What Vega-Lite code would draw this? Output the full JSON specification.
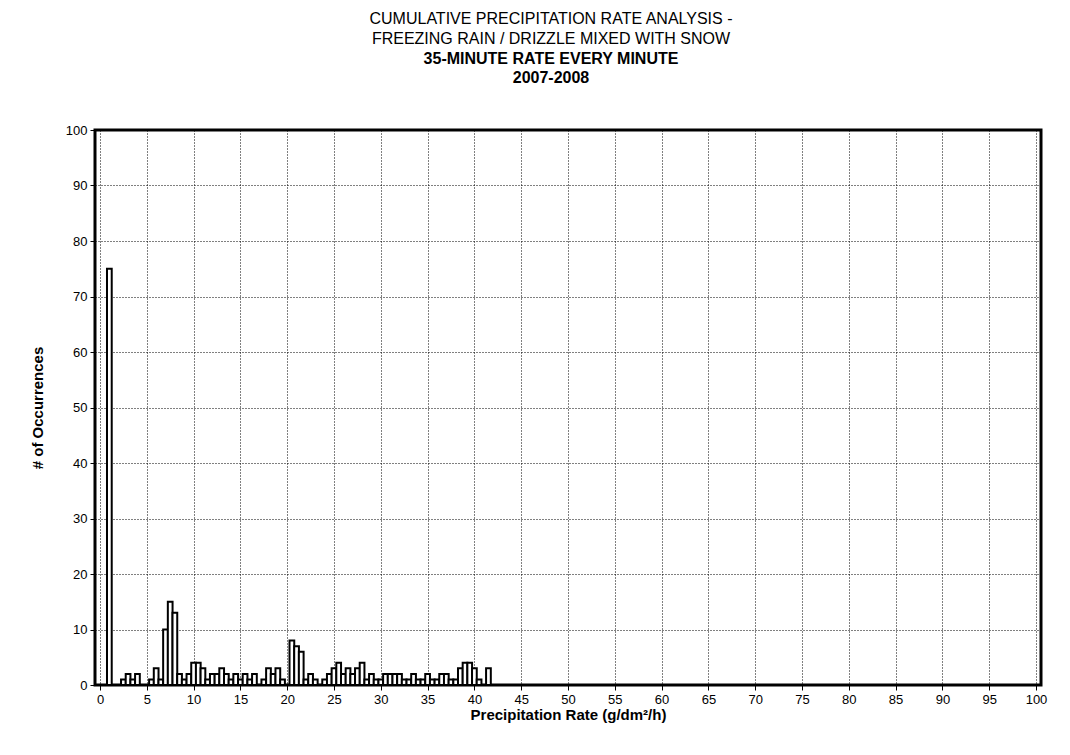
{
  "$schema": "https://vega.github.io/schema/vega-lite/v6.json",
  "width": 946,
  "height": 555,
  "autosize": {"type": "none"},
  "padding": {"left": 95, "top": 130, "right": 29, "bottom": 70},
  "background": "white",
  "title": {
    "text": ["CUMULATIVE PRECIPITATION RATE ANALYSIS -", "FREEZING RAIN / DRIZZLE MIXED WITH SNOW"],
    "subtitle": ["35-MINUTE RATE EVERY MINUTE", "2007-2008"],
    "fontSize": 16,
    "fontWeight": "normal",
    "subtitleFontSize": 16,
    "subtitleFontWeight": "bold",
    "color": "black",
    "subtitleColor": "black",
    "lineHeight": 19.5,
    "subtitleLineHeight": 19.5,
    "subtitlePadding": 4,
    "anchor": "middle",
    "dx": -17,
    "offset": 38,
    "font": "Liberation Sans",
    "subtitleFont": "Liberation Sans"
  },
  "data": {
    "values": [
      {"rate": 1, "count": 75},
      {"rate": 2.5, "count": 1},
      {"rate": 3, "count": 2},
      {"rate": 3.5, "count": 1},
      {"rate": 4, "count": 2},
      {"rate": 5.5, "count": 1},
      {"rate": 6, "count": 3},
      {"rate": 6.5, "count": 1},
      {"rate": 7, "count": 10},
      {"rate": 7.5, "count": 15},
      {"rate": 8, "count": 13},
      {"rate": 8.5, "count": 2},
      {"rate": 9, "count": 1},
      {"rate": 9.5, "count": 2},
      {"rate": 10, "count": 4},
      {"rate": 10.5, "count": 4},
      {"rate": 11, "count": 3},
      {"rate": 11.5, "count": 1},
      {"rate": 12, "count": 2},
      {"rate": 12.5, "count": 2},
      {"rate": 13, "count": 3},
      {"rate": 13.5, "count": 2},
      {"rate": 14, "count": 1},
      {"rate": 14.5, "count": 2},
      {"rate": 15, "count": 1},
      {"rate": 15.5, "count": 2},
      {"rate": 16, "count": 1},
      {"rate": 16.5, "count": 2},
      {"rate": 17.5, "count": 1},
      {"rate": 18, "count": 3},
      {"rate": 18.5, "count": 2},
      {"rate": 19, "count": 3},
      {"rate": 19.5, "count": 1},
      {"rate": 20.5, "count": 8},
      {"rate": 21, "count": 7},
      {"rate": 21.5, "count": 6},
      {"rate": 22, "count": 1},
      {"rate": 22.5, "count": 2},
      {"rate": 23, "count": 1},
      {"rate": 24, "count": 1},
      {"rate": 24.5, "count": 2},
      {"rate": 25, "count": 3},
      {"rate": 25.5, "count": 4},
      {"rate": 26, "count": 2},
      {"rate": 26.5, "count": 3},
      {"rate": 27, "count": 2},
      {"rate": 27.5, "count": 3},
      {"rate": 28, "count": 4},
      {"rate": 28.5, "count": 1},
      {"rate": 29, "count": 2},
      {"rate": 29.5, "count": 1},
      {"rate": 30, "count": 1},
      {"rate": 30.5, "count": 2},
      {"rate": 31, "count": 2},
      {"rate": 31.5, "count": 2},
      {"rate": 32, "count": 2},
      {"rate": 32.5, "count": 1},
      {"rate": 33, "count": 1},
      {"rate": 33.5, "count": 2},
      {"rate": 34, "count": 1},
      {"rate": 34.5, "count": 1},
      {"rate": 35, "count": 2},
      {"rate": 35.5, "count": 1},
      {"rate": 36, "count": 1},
      {"rate": 36.5, "count": 2},
      {"rate": 37, "count": 2},
      {"rate": 37.5, "count": 1},
      {"rate": 38, "count": 1},
      {"rate": 38.5, "count": 3},
      {"rate": 39, "count": 4},
      {"rate": 39.5, "count": 4},
      {"rate": 40, "count": 3},
      {"rate": 40.5, "count": 1},
      {"rate": 41.5, "count": 3}
    ]
  },
  "mark": {"type": "bar", "width": 4.73, "fill": "white", "stroke": "black", "strokeWidth": 2},
  "encoding": {
    "x": {
      "field": "rate",
      "type": "quantitative",
      "scale": {"domain": [0, 100], "nice": false},
      "axis": {
        "values": [0, 5, 10, 15, 20, 25, 30, 35, 40, 45, 50, 55, 60, 65, 70, 75, 80, 85, 90, 95, 100],
        "title": "Precipitation Rate (g/dm²/h)",
        "titleFontSize": 15,
        "titleFontWeight": "bold",
        "titleColor": "black",
        "titlePadding": 1,
        "labelFontSize": 13,
        "labelColor": "black",
        "labelPadding": 3,
        "labelFlush": false,
        "labelOverlap": false,
        "tickColor": "black",
        "tickSize": 5,
        "domain": false,
        "grid": true,
        "gridColor": "black",
        "gridDash": [1, 2],
        "gridOpacity": 1,
        "gridWidth": 1
      }
    },
    "y": {
      "field": "count",
      "type": "quantitative",
      "scale": {"domain": [0, 100], "nice": false},
      "axis": {
        "values": [0, 10, 20, 30, 40, 50, 60, 70, 80, 90, 100],
        "title": "# of Occurrences",
        "titleFontSize": 15,
        "titleFontWeight": "bold",
        "titleColor": "black",
        "titlePadding": 20,
        "labelFontSize": 13,
        "labelColor": "black",
        "labelPadding": 3,
        "labelFlush": false,
        "labelOverlap": false,
        "tickColor": "black",
        "tickSize": 5,
        "domain": false,
        "grid": true,
        "gridColor": "black",
        "gridDash": [1, 2],
        "gridOpacity": 1,
        "gridWidth": 1
      }
    }
  },
  "config": {
    "font": "Liberation Sans",
    "view": {"stroke": "black", "strokeWidth": 3}
  }
}
